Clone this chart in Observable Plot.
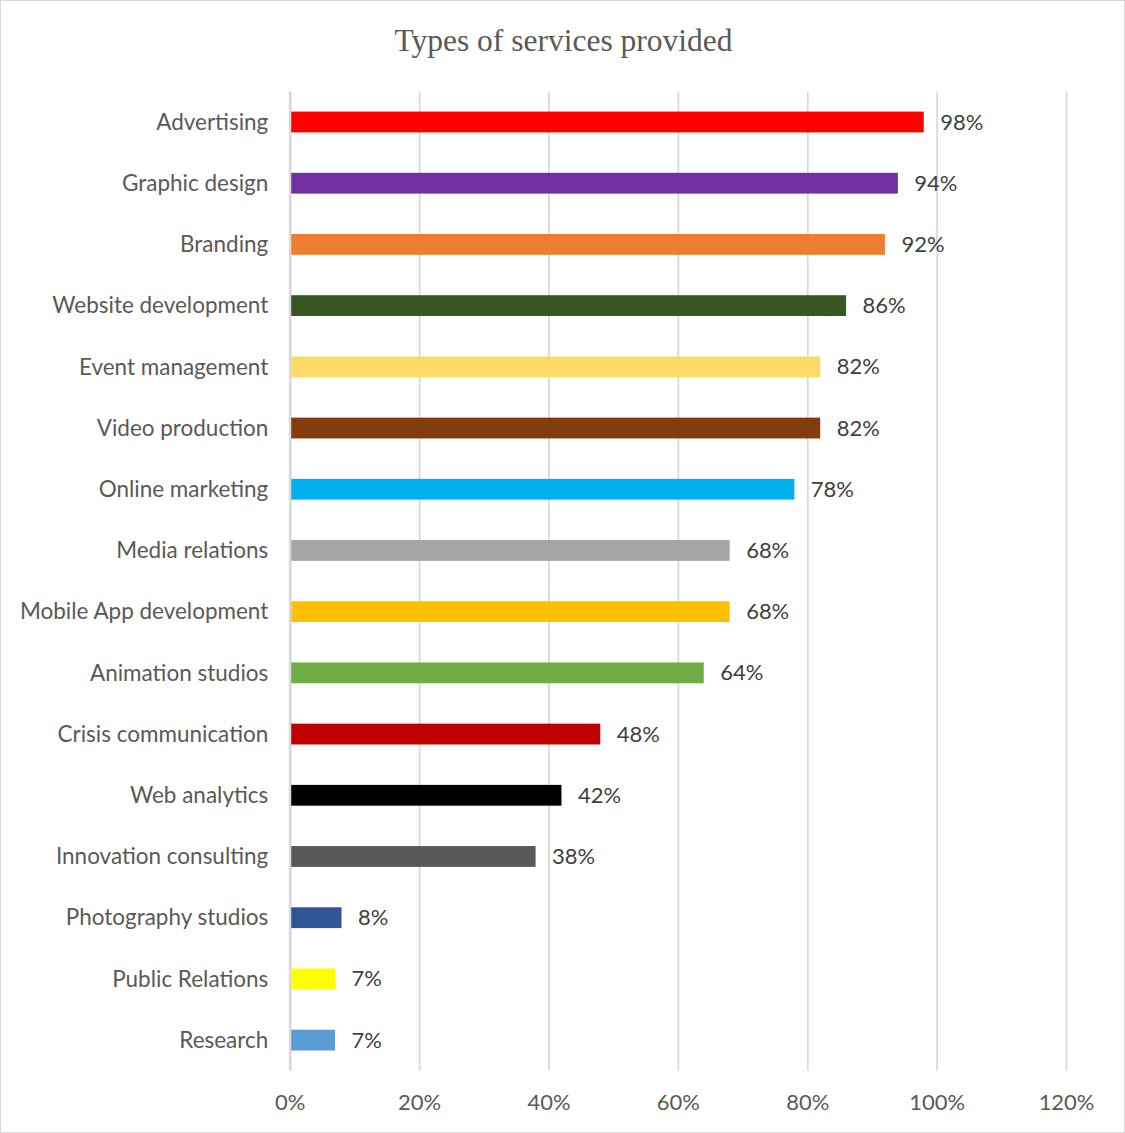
<!DOCTYPE html>
<html>
<head>
<meta charset="utf-8">
<script src="https://cdn.jsdelivr.net/npm/d3@7"></script>
<script src="https://cdn.jsdelivr.net/npm/@observablehq/plot@0.6"></script>
<style>
  html, body { margin: 0; padding: 0; background: #fff; }
  #chart {
    position: relative; width: 1123px; height: 1131px;
    border: 1px solid #d9d9d9; background: #fff; overflow: hidden;
  }
  #title {
    position: absolute; left: 0; top: 20px; width: 1125px; text-align: center;
    font-family: "Liberation Serif", "DejaVu Serif", serif; font-size: 31.5px; color: #595959;
    line-height: 40px;
  }
  #plot { position: absolute; left: -1px; top: 79px; }
</style>
</head>
<body>
<div id="chart">
  <div id="title">Types of services provided</div>
  <div id="plot"></div>
</div>
<script>
const categories = [
  "Advertising", "Graphic design", "Branding", "Website development",
  "Event management", "Video production", "Online marketing", "Media relations",
  "Mobile App development", "Animation studios", "Crisis communication",
  "Web analytics", "Innovation consulting", "Photography studios",
  "Public Relations", "Research"
];
const values = [98, 94, 92, 86, 82, 82, 78, 68, 68, 64, 48, 42, 38, 8, 7, 7];
const colors = [
  "#FF0000", "#7030A0", "#ED7D31", "#375623",
  "#FFD966", "#843C0C", "#00B0F0", "#A5A5A5",
  "#FFC000", "#70AD47", "#C00000",
  "#000000", "#595959", "#2F5597",
  "#FFFF00", "#5B9BD5"
];
const xTicks = [0, 20, 40, 60, 80, 100, 120];

const data = categories.map((c, i) => ({category: c, value: values[i], color: colors[i]}));

const chart = Plot.plot({
  width: 1125,
  height: 1054,
  marginLeft: 290,
  marginRight: 58,
  marginTop: 11.4,
  marginBottom: 62.4,
  style: {fontFamily: "Lato, 'Open Sans', sans-serif", background: "transparent"},
  x: {domain: [0, 120], ticks: xTicks, tickFormat: d => d + "%", label: null},
  y: {domain: categories, paddingInner: 0.66, paddingOuter: 0.33, round: false, label: null},
  marks: [
    Plot.ruleX(xTicks.filter(d => d > 0), {stroke: "#d9d9d9", strokeWidth: 1.8}),
    Plot.ruleX([0], {stroke: "#d9d9d9", strokeWidth: 2.8}),
    Plot.barX(data, {x1: 0, x2: "value", y: "category", fill: "color", insetLeft: 1.5}),
    Plot.text(data, {x: "value", y: "category", text: d => d.value + "%", textAnchor: "start", dx: 16, fill: "#404040", fontSize: 22}),
    Plot.axisY({tickSize: 0, tickPadding: 22, fontSize: 22.5, color: "#595959"}),
    Plot.axisX({tickSize: 0, tickPadding: 23, fontSize: 22, color: "#595959", ticks: xTicks, tickFormat: d => d + "%"})
  ]
});
document.getElementById("plot").appendChild(chart);
</script>
</body>
</html>
